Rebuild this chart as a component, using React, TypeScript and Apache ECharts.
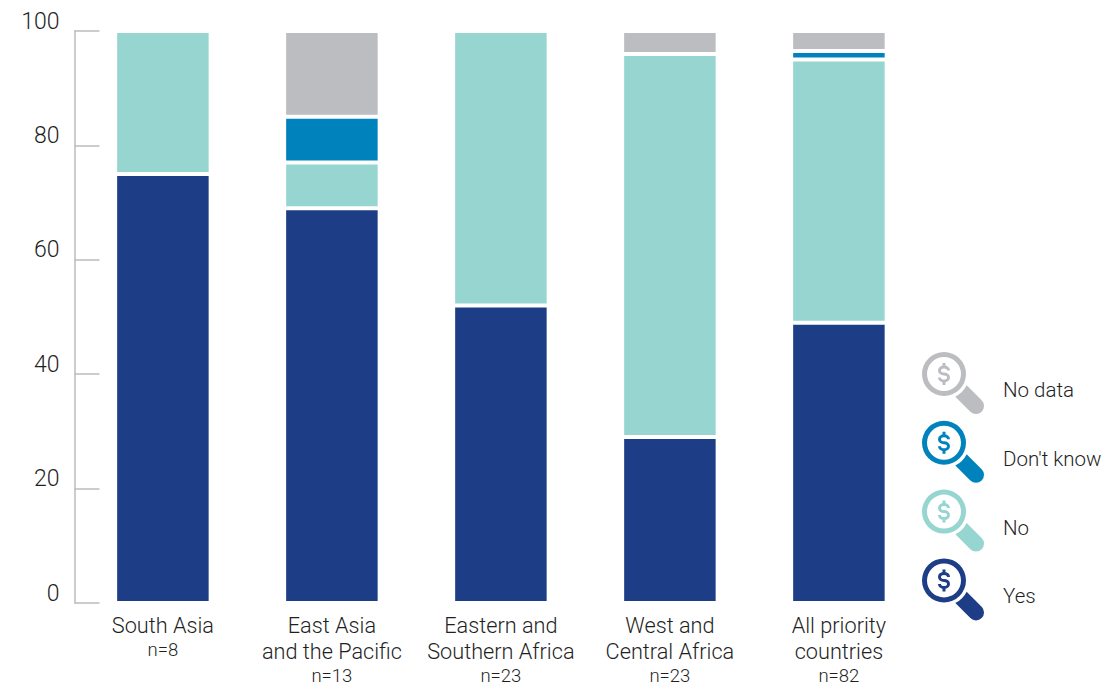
import React, { useEffect, useRef } from "react";
import * as echarts from "echarts";

const categories = [
  ["South Asia"],
  ["East Asia", "and the Pacific"],
  ["Eastern and", "Southern Africa"],
  ["West and", "Central Africa"],
  ["All priority", "countries"],
];
const sampleSizes = ["n=8", "n=13", "n=23", "n=23", "n=82"];
const yesValues = [75, 69, 52, 29, 49];
const noValues = [25, 8, 48, 67, 46];
const dontKnowValues = [null, 8, null, null, 1.5];
const noDataValues = [null, 15, null, 4, 3.5];
const yTicks = { min: 0, max: 100, interval: 20 };
const legendOrder = ["No data", "Don't know", "No", "Yes"];

const NAVY = "#1D3E87";
const TEAL = "#97D5D1";
const BLUE = "#0083BD";
const GREY = "#BCBDC0";
const FONT = "Roboto";

const ICON =
  "path://M0 22A22 22 0 1 1 44 22A22 22 0 1 1 0 22Z" +
  "M5 22A17 17 0 1 0 39 22A17 17 0 1 0 5 22Z" +
  "M28 18.5A6 5 0 1 0 22 23.5A3 2 0 1 1 19 25.5L16 25.5A6 5 0 1 0 22 20.5A3 2 0 1 1 25 18.5Z" +
  "M20.5 11L20.5 14.5L23.5 14.5L23.5 11Z" +
  "M20.5 29.5L20.5 33L23.5 33L23.5 29.5Z" +
  "M44.66 33.34L59.66 48.34A8 8 0 0 1 48.34 59.66L33.34 44.66A25.3 25.3 0 0 0 44.66 33.34Z";

const categoryKeys = categories.map((c) => c.join(" "));

function barSeries(name: string, data: (number | null)[], color: string) {
  return {
    name,
    type: "bar",
    stack: "total",
    barWidth: 95.5,
    data,
    itemStyle: { color, borderColor: "#ffffff", borderWidth: 2 },
  };
}

export default function App() {
  const ref = useRef<HTMLDivElement>(null);
  useEffect(() => {
    const chart = echarts.init(ref.current!, undefined, { renderer: "svg" });
    chart.setOption({
      animation: false,
      backgroundColor: "#ffffff",
      textStyle: { fontFamily: FONT },
      grid: { left: 78.4, top: 31, width: 845, height: 572.7, containLabel: false },
      xAxis: {
        type: "category",
        data: categoryKeys,
        axisLine: { show: false },
        axisTick: { show: false },
        axisLabel: {
          interval: 0,
          margin: 9.5,
          formatter: (_: string, i: number) =>
            categories[i].map((l) => `{a|${l}}`).join("\n") + `\n{n|${sampleSizes[i]}}`,
          rich: {
            a: { fontFamily: FONT, fontWeight: 300, fontSize: 21.7, lineHeight: 26, color: "#1f1f1f", align: "center" },
            n: { fontFamily: FONT, fontWeight: 300, fontSize: 18.5, lineHeight: 22, color: "#1f1f1f", align: "center" },
          },
        },
      },
      yAxis: {
        type: "value",
        ...yTicks,
        offset: 3.9,
        splitLine: { show: false },
        axisLine: { show: true, lineStyle: { color: "#BBBBBB", width: 1.5 } },
        axisTick: { show: true, inside: true, length: 25, lineStyle: { color: "#BBBBBB", width: 1.5 } },
        axisLabel: {
          margin: 15,
          fontFamily: FONT,
          fontWeight: 300,
          fontSize: 23,
          color: "#1f1f1f",
          verticalAlign: "bottom",
          lineHeight: 20,
        },
      },
      legend: {
        orient: "vertical",
        left: 922,
        top: 352,
        padding: 0,
        itemWidth: 62,
        itemHeight: 62,
        itemGap: 6.8,
        icon: ICON,
        data: legendOrder,
        selectedMode: false,
        itemStyle: { borderWidth: 0 },
        formatter: "{t|{name}}",
        textStyle: {
          rich: {
            t: {
              fontFamily: FONT,
              fontWeight: 300,
              fontSize: 20.5,
              color: "#1f1f1f",
              padding: [14, 0, 0, 14],
            },
          },
        },
      },
      series: [
        barSeries("Yes", yesValues, NAVY),
        barSeries("No", noValues, TEAL),
        barSeries("Don't know", dontKnowValues, BLUE),
        barSeries("No data", noDataValues, GREY),
      ],
    });
    return () => chart.dispose();
  }, []);
  return <div ref={ref} style={{ position: "fixed", left: 0, top: 0, width: 1119, height: 685 }} />;
}
